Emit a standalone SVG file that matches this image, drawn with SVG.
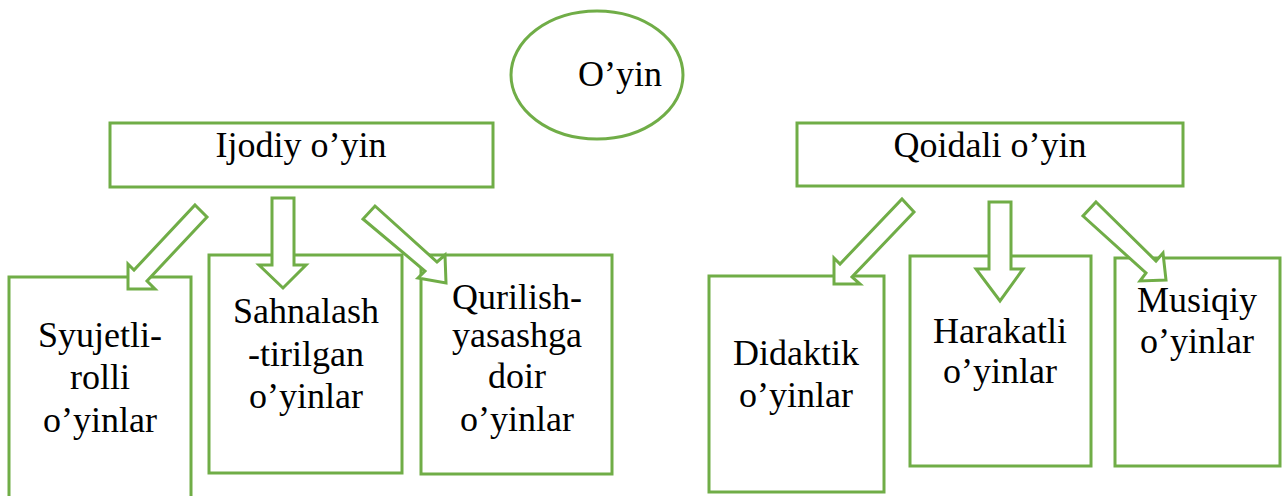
<svg xmlns="http://www.w3.org/2000/svg" width="1282" height="496" viewBox="0 0 1282 496">
<style>
.b{fill:#fff;stroke:#70AD47;stroke-width:3}
.a{fill:#fff;stroke:#70AD47;stroke-width:3;stroke-linejoin:miter}
.t{font-family:'Liberation Serif','DejaVu Serif',serif;font-size:36px;fill:#000;text-anchor:middle}
</style>
<rect width="1282" height="496" fill="#fff"/>
<g id="n-oyin">
<ellipse class="b" cx="597" cy="75" rx="86" ry="64"/>
<text class="t" x="620" y="86" font-family="'Liberation Serif', serif">O’yin</text>
</g>
<g id="n-ijodiy">
<rect class="b" x="110" y="123" width="383" height="64"/>
<text class="t" x="301" y="157">Ijodiy o’yin</text>
</g>
<g id="n-qoidali">
<rect class="b" x="797" y="123" width="386" height="63"/>
<text class="t" x="990" y="157">Qoidali o’yin</text>
</g>
<g id="n-syujetli">
<rect class="b" x="9" y="277" width="182" height="225"/>
<text class="t" x="100" y="347">Syujetli-</text>
<text class="t" x="100" y="389">rolli</text>
<text class="t" x="100" y="432">o’yinlar</text>
</g>
<g id="n-sahnalash">
<rect class="b" x="209" y="255" width="193" height="218"/>
<text class="t" x="306" y="323">Sahnalash</text>
<text class="t" x="306" y="366">-tirilgan</text>
<text class="t" x="306" y="408">o’yinlar</text>
</g>
<g id="n-qurilish">
<rect class="b" x="421" y="255" width="191" height="219"/>
<text class="t" x="517" y="309">Qurilish-</text>
<text class="t" x="517" y="347">yasashga</text>
<text class="t" x="517" y="388">doir</text>
<text class="t" x="517" y="431">o’yinlar</text>
</g>
<g id="n-didaktik">
<rect class="b" x="709" y="276" width="175" height="216"/>
<text class="t" x="796" y="365">Didaktik</text>
<text class="t" x="796" y="407">o’yinlar</text>
</g>
<g id="n-harakatli">
<rect class="b" x="910" y="256" width="181" height="210"/>
<text class="t" x="1000" y="343">Harakatli</text>
<text class="t" x="1000" y="383">o’yinlar</text>
</g>
<g id="n-musiqiy">
<rect class="b" x="1115" y="258" width="165" height="208"/>
<text class="t" x="1197" y="312">Musiqiy</text>
<text class="t" x="1197" y="353">o’yinlar</text>
</g>
<g id="connectors">
<polygon class="a" points="195,205 207,217 147,281 155,289 128,289 128,264 134,270"/>
<polygon class="a" points="272,198 294,198 294,265 306,265 283,288 259,265 272,265"/>
<polygon class="a" points="375,206 437,262 445,255 446,283 418,278 425,271 363,219"/>
<polygon class="a" points="902,199 914,212 852,277 860,284 834,284 834,258 840,264"/>
<polygon class="a" points="989,202 1011,202 1011,269 1023,269 1000,301 976,269 989,269"/>
<polygon class="a" points="1096,202 1156,261 1163,253 1166,280 1140,281 1146,273 1083,216"/>
</g>
</svg>
